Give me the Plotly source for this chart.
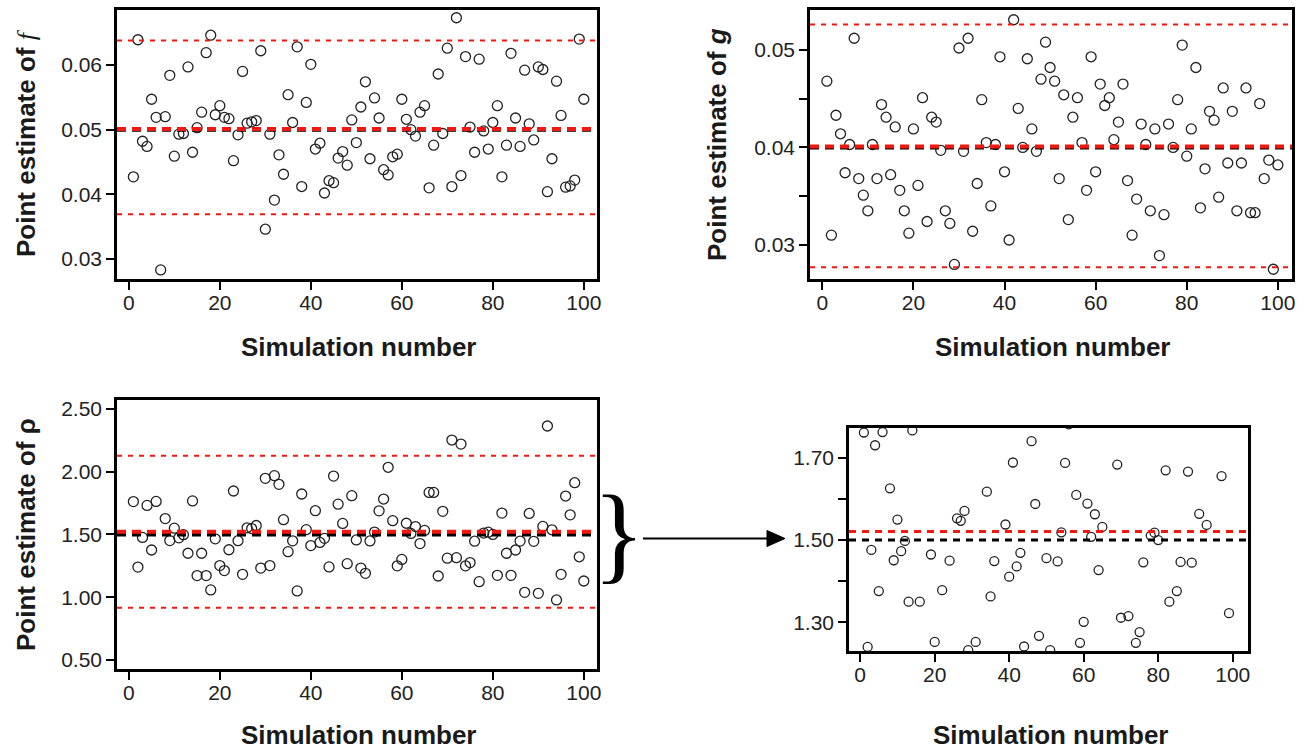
import plotly.graph_objects as go

# ---------------- data ----------------
simulation = list(range(1, 101))

f_est = [0.0427, 0.0639, 0.0482, 0.0474, 0.0547, 0.0519, 0.0283, 0.0520, 0.0584, 0.0459,
         0.0493, 0.0494, 0.0597, 0.0465, 0.0503, 0.0527, 0.0619, 0.0646, 0.0523, 0.0537,
         0.0519, 0.0517, 0.0452, 0.0492, 0.0590, 0.0510, 0.0512, 0.0514, 0.0622, 0.0346,
         0.0493, 0.0391, 0.0461, 0.0431, 0.0554, 0.0511, 0.0628, 0.0412, 0.0542, 0.0601,
         0.0470, 0.0479, 0.0402, 0.0421, 0.0418, 0.0456, 0.0466, 0.0445, 0.0515, 0.0480,
         0.0535, 0.0574, 0.0455, 0.0549, 0.0518, 0.0438, 0.0430, 0.0458, 0.0462, 0.0547,
         0.0516, 0.0500, 0.0490, 0.0527, 0.0537, 0.0410, 0.0476, 0.0586, 0.0494, 0.0626,
         0.0412, 0.0673, 0.0429, 0.0613, 0.0504, 0.0465, 0.0609, 0.0498, 0.0470, 0.0511,
         0.0537, 0.0427, 0.0476, 0.0618, 0.0518, 0.0474, 0.0592, 0.0509, 0.0484, 0.0597,
         0.0593, 0.0404, 0.0455, 0.0575, 0.0522, 0.0411, 0.0413, 0.0422, 0.0640, 0.0547]

g_est = [0.0468, 0.0310, 0.0433, 0.0414, 0.0374, 0.0403, 0.0512, 0.0368, 0.0351, 0.0335,
         0.0403, 0.0368, 0.0444, 0.0431, 0.0372, 0.0421, 0.0356, 0.0335, 0.0312, 0.0419,
         0.0361, 0.0451, 0.0324, 0.0431, 0.0426, 0.0397, 0.0335, 0.0322, 0.0280, 0.0502,
         0.0396, 0.0512, 0.0314, 0.0363, 0.0449, 0.0405, 0.0340, 0.0403, 0.0493, 0.0375,
         0.0305, 0.0531, 0.0440, 0.0400, 0.0491, 0.0419, 0.0396, 0.0470, 0.0508, 0.0482,
         0.0468, 0.0368, 0.0454, 0.0326, 0.0431, 0.0451, 0.0405, 0.0356, 0.0493, 0.0375,
         0.0465, 0.0443, 0.0451, 0.0408, 0.0426, 0.0465, 0.0366, 0.0310, 0.0347, 0.0424,
         0.0403, 0.0335, 0.0419, 0.0289, 0.0331, 0.0424, 0.0400, 0.0449, 0.0505, 0.0391,
         0.0419, 0.0482, 0.0338, 0.0378, 0.0437, 0.0428, 0.0349, 0.0461, 0.0384, 0.0437,
         0.0335, 0.0384, 0.0461, 0.0333, 0.0333, 0.0445, 0.0368, 0.0387, 0.0275, 0.0382]

rho_est = [1.762, 1.240, 1.476, 1.731, 1.376, 1.763, None, 1.626, 1.451, 1.550,
           1.473, 1.498, 1.350, 1.767, 1.172, 1.350, 1.172, 1.058, 1.465, 1.252,
           1.212, 1.378, 1.846, 1.450, 1.182, 1.553, 1.547, 1.571, 1.232, 1.947,
           1.252, 1.968, 1.899, 1.618, 1.363, 1.449, 1.050, 1.822, 1.538, 1.411,
           1.689, 1.436, 1.469, 1.241, 1.965, 1.741, 1.588, 1.267, 1.809, 1.456,
           1.232, 1.190, 1.448, 1.519, 1.688, 1.782, 2.035, 1.610, 1.250, 1.301,
           1.589, 1.508, 1.563, 1.427, 1.532, 1.835, 1.835, 1.169, 1.684, 1.311,
           2.252, 1.315, 2.220, 1.250, 1.276, 1.446, 1.124, 1.511, 1.518, 1.500,
           1.174, 1.670, 1.350, 1.174, 1.376, 1.447, 1.039, 1.667, 1.445, 1.031,
           1.564, 2.364, 1.537, 0.978, 1.182, 1.806, 1.656, 1.912, 1.322, 1.129]

f_true, f_mean, f_lower, f_upper = 0.05, 0.0501, 0.0369, 0.0638
g_true, g_mean, g_lower, g_upper = 0.04, 0.0401, 0.0277, 0.0526
rho_true, rho_mean, rho_lower, rho_upper = 1.50, 1.521, 0.916, 2.127

x_ticks = [0, 20, 40, 60, 80, 100]
f_ticks = [0.03, 0.04, 0.05, 0.06]
g_ticks = [0.03, 0.04, 0.05]
g_minor = [0.035, 0.045]
rho_ticks = [0.50, 1.00, 1.50, 2.00, 2.50]
rho_zoom_ticks = [1.30, 1.50, 1.70]
rho_zoom_minor = [1.40, 1.60]

x_title = "Simulation number"
y_title_f = "Point estimate of <span style=\"font-family:'Liberation Serif';font-weight:normal\"><i>f</i></span>"
y_title_g = "Point estimate of <i>g</i>"
y_title_rho = "Point estimate of ρ"

# ---------------- layout helpers ----------------
W, H = 1308, 749
def px_x(a, b):
    return [a / W, b / W]
def px_y(top, bottom):
    return [1 - bottom / H, 1 - top / H]

FONT = "Liberation Sans, Arial, sans-serif"
tickfont = dict(family=FONT, size=21, color="#222")

def axis(**kw):
    d = dict(showline=True, linecolor="black", linewidth=2.5, mirror=True,
             ticks="outside", ticklen=8, tickwidth=2, tickcolor="black",
             showgrid=False, zeroline=False, automargin=False, tickfont=tickfont)
    d.update(kw)
    return d

def xaxis(**kw):
    return axis(ticklabelstandoff=-5, **kw)

fig = go.Figure()

marker = dict(symbol="circle-open", size=10, color="#222", line=dict(width=1.3))
for xa, ya, ys, msize in [("x", "y", f_est, 10), ("x2", "y2", g_est, 10),
                          ("x3", "y3", rho_est, 10), ("x4", "y4", rho_est, 9)]:
    m = dict(marker)
    m["size"] = msize
    fig.add_trace(go.Scatter(x=simulation, y=ys, mode="markers", marker=m,
                             xaxis=xa, yaxis=ya, showlegend=False, cliponaxis=True,
                             hoverinfo="x+y"))

# reference lines
def hline(xa, ya, val, color, width, dash):
    fig.add_shape(type="line", xref=f"{xa} domain", yref=ya, x0=0, x1=1, y0=val, y1=val,
                  line=dict(color=color, width=width, dash=dash), layer="above")

RED = "#f2180f"
for xa, ya, tv, mv, lo, hi in [("x", "y", f_true, f_mean, f_lower, f_upper),
                               ("x2", "y2", g_true, g_mean, g_lower, g_upper),
                               ("x3", "y3", rho_true, rho_mean, rho_lower, rho_upper)]:
    hline(xa, ya, lo, RED, 2, "5px,6px")
    hline(xa, ya, hi, RED, 2, "5px,6px")
    hline(xa, ya, tv, "black", 4, "9px,6px")
    hline(xa, ya, mv, RED, 4, "9px,6px")

hline("x4", "y4", rho_true, "black", 3, "7px,6px")
hline("x4", "y4", rho_mean, RED, 3, "7px,6px")

fig.update_layout(
    width=W, height=H, margin=dict(l=0, r=0, t=0, b=0),
    paper_bgcolor="white", plot_bgcolor="white", showlegend=False,
    xaxis=xaxis(domain=px_x(117, 597), range=[-2.6, 102.9], tickvals=x_ticks, anchor="y"),
    yaxis=axis(domain=px_y(10, 279), range=[0.0269, 0.0685], tickvals=f_ticks,
               tickformat=".2f", anchor="x"),
    xaxis2=xaxis(domain=px_x(810, 1292), range=[-2.7, 103.1], tickvals=x_ticks, anchor="y2"),
    yaxis2=axis(domain=px_y(10, 279), range=[0.0265, 0.0541], tickvals=g_ticks,
                tickformat=".2f", anchor="x2",
                minor=dict(tickvals=g_minor, ticks="outside", ticklen=8, tickwidth=2,
                           tickcolor="black")),
    xaxis3=xaxis(domain=px_x(117, 597), range=[-2.6, 102.9], tickvals=x_ticks, anchor="y3"),
    yaxis3=axis(domain=px_y(400, 669), range=[0.428, 2.571], tickvals=rho_ticks,
                tickformat=".2f", anchor="x3"),
    xaxis4=xaxis(domain=px_x(849, 1248), range=[-3.0, 104.1], tickvals=x_ticks, anchor="y4"),
    yaxis4=axis(domain=px_y(428, 651), range=[1.230, 1.773], tickvals=rho_zoom_ticks,
                tickformat=".2f", anchor="x4",
                minor=dict(tickvals=rho_zoom_minor, ticks="outside", ticklen=8, tickwidth=2,
                           tickcolor="black")),
)

# axis titles as annotations
title_font = dict(family=FONT, size=26, color="#1a1a1a", weight="bold")
def ann(text, x, y, angle=0, font=title_font):
    fig.add_annotation(text=text, x=x / W, y=1 - y / H, xref="paper", yref="paper",
                       showarrow=False, textangle=angle, font=font,
                       xanchor="center", yanchor="middle")

ann(x_title, 358, 347)
ann(x_title, 1052, 347)
ann(x_title, 358, 735)
ann(x_title, 1050, 735)
ann(y_title_f, 26, 143, -90)
ann(y_title_g, 717, 145, -90)
ann(y_title_rho, 26, 535, -90)

# brace and arrow
ann("}", 619, 533, 0, dict(family="Liberation Serif, Times New Roman, serif", size=108,
                           color="black"))
fig.add_shape(type="line", xref="paper", yref="paper",
              x0=643 / W, x1=770 / W, y0=1 - 538.5 / H, y1=1 - 538.5 / H,
              line=dict(color="black", width=2))
def P(x, y):
    return f"{x / W:.5f},{1 - y / H:.5f}"
fig.add_shape(type="path", xref="paper", yref="paper",
              path=f"M{P(767, 530.5)} L{P(785, 538.5)} L{P(767, 546.5)} Z",
              fillcolor="black", line=dict(color="black", width=1))

fig.write_html("out.html", config={"displayModeBar": False},
               post_script="document.body.style.margin='0';document.body.style.padding='0';"
                           "document.body.style.overflow='hidden';")
